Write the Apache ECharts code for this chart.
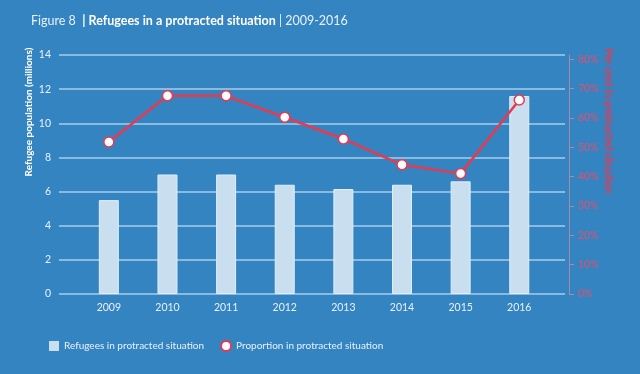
<!DOCTYPE html>
<html><head><meta charset="utf-8">
<script src="https://cdn.jsdelivr.net/npm/echarts@6/dist/echarts.min.js"></script>
<style>html,body{margin:0;padding:0;background:#3584c2;}#c{width:640px;height:374px;}</style>
</head><body><div id="c"></div>
<script>
var years = [2009, 2010, 2011, 2012, 2013, 2014, 2015, 2016];
var refugees = [5.5, 7.0, 7.0, 6.4, 6.15, 6.4, 6.6, 11.6];
var proportion = [51.8, 67.5, 67.5, 60.2, 52.8, 44.0, 41.0, 66.1];
var leftTicks = [0, 2, 4, 6, 8, 10, 12, 14];
var rightTicks = [0, 10, 20, 30, 40, 50, 60, 70, 80];

var chart = echarts.init(document.getElementById('c'));
var font = 'Lato, "Open Sans", sans-serif';
var red = '#e8394f';
chart.setOption({
  backgroundColor: '#3584c2',
  animation: false,
  textStyle: {fontFamily: font},
  title: {
    left: 26, top: 9,
    text: '{a|Figure 8  }{b|| Refugees in a protracted situation }{a|| 2009-2016}',
    textStyle: {rich: {
      a: {fontFamily: font, fontSize: 12.5, color: '#e9f1f9', fontWeight: 'normal'},
      b: {fontFamily: font, fontSize: 12.5, color: '#ffffff', fontWeight: 'bold'}
    }}
  },
  legend: {
    left: 44, top: 335, itemGap: 16, itemWidth: 10, itemHeight: 10,
    textStyle: {color: '#e9f1f9', fontSize: 10, fontFamily: font},
    data: [
      {name: 'Refugees in protracted situation', icon: 'rect', itemStyle: {color: '#c9dff0', borderWidth: 0}},
      {name: 'Proportion in protracted situation', icon: 'circle', itemStyle: {color: '#ffffff', borderColor: red, borderWidth: 2}}
    ]
  },
  grid: {left: 59, right: 75, top: 55, bottom: 80},
  xAxis: {
    type: 'value', min: 2008.15, max: 2016.78,
    axisLine: {show: false}, axisTick: {show: false}, splitLine: {show: false},
    axisLabel: {customValues: years, formatter: function (v) { return String(v); }, color: '#e9f1f9', fontSize: 10.5, margin: 8, fontFamily: font}
  },
  yAxis: [
    {
      type: 'value', min: 0, max: 14, interval: 2,
      axisLine: {show: false}, axisTick: {show: false},
      splitLine: {lineStyle: {color: '#a9cdea', width: 1.5}},
      axisLabel: {customValues: leftTicks, color: '#e9f1f9', fontSize: 10.5, margin: 8, fontFamily: font}
    },
    {
      type: 'value', min: 0, max: 81.4, position: 'right', offset: 4,
      axisLine: {show: true, lineStyle: {color: '#a98aac', width: 1}},
      axisTick: {show: true, length: 5, customValues: rightTicks, lineStyle: {color: '#a98aac'}},
      splitLine: {show: false},
      axisLabel: {customValues: rightTicks, formatter: '{value}%', color: '#e2506c', fontSize: 10.5, margin: 9, fontFamily: font}
    }
  ],
  graphic: [
    {type: 'text', x: 29, y: 112, rotation: Math.PI / 2,
      style: {text: 'Refugee population (millions)', fill: '#ffffff', font: 'bold 10px ' + font, textAlign: 'center', textVerticalAlign: 'middle'}},
    {type: 'text', x: 608, y: 121, rotation: -Math.PI / 2,
      style: {text: 'Per cent in protracted situation', fill: red, font: 'bold 10.5px ' + font, textAlign: 'center', textVerticalAlign: 'middle'}}
  ],
  series: [
    {
      name: 'Refugees in protracted situation', type: 'bar', yAxisIndex: 0, barWidth: 20,
      data: years.map(function (y, i) { return [y, refugees[i]]; }),
      itemStyle: {color: '#c9dff0', borderColor: '#e0eef8', borderWidth: 1}
    },
    {
      name: 'Proportion in protracted situation', type: 'line', yAxisIndex: 1,
      data: years.map(function (y, i) { return [y, proportion[i]]; }),
      symbol: 'circle', symbolSize: 10,
      lineStyle: {color: red, width: 2.5},
      itemStyle: {color: '#ffffff', borderColor: red, borderWidth: 1.5}
    }
  ]
});
</script></body></html>
